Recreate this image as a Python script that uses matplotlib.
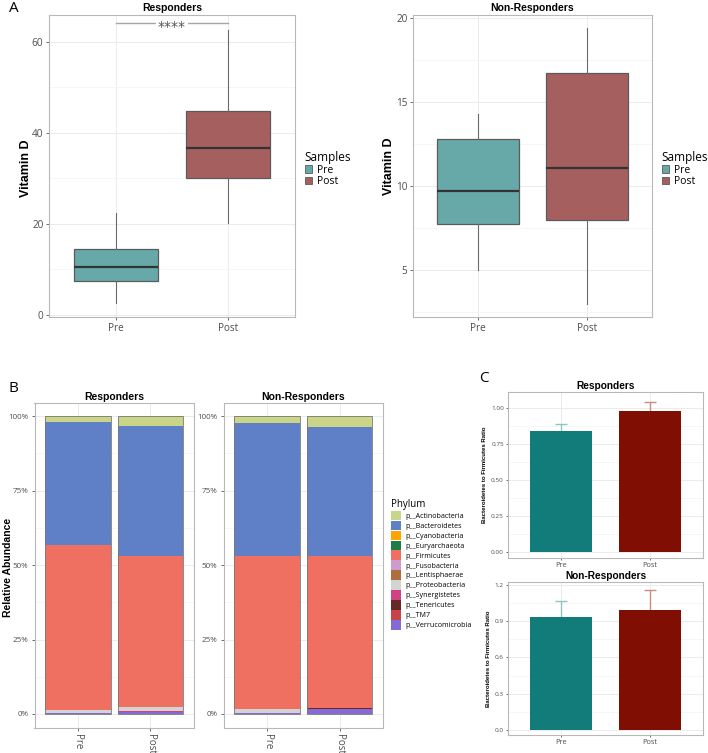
import matplotlib
matplotlib.use("Agg")
import matplotlib.pyplot as plt
import numpy as np
from matplotlib.patches import Patch
from matplotlib.ticker import MultipleLocator

# ---------------- data ----------------
samples = ["Pre", "Post"]

# Panel A: box statistics [lower whisker, Q1, median, Q3, upper whisker]
resp_pre_box = [2.6, 7.5, 10.6, 14.6, 22.5]
resp_post_box = [20.3, 30.1, 36.6, 44.8, 62.7]
nonresp_pre_box = [5.0, 7.75, 9.7, 12.8, 14.3]
nonresp_post_box = [3.0, 7.95, 11.05, 16.7, 19.4]
signif_label = "****"
signif_y = 64.2

# Panel B: relative abundance (%) per phylum
phyla = ["p__Actinobacteria", "p__Bacteroidetes", "p__Cyanobacteria", "p__Euryarchaeota",
         "p__Firmicutes", "p__Fusobacteria", "p__Lentisphaerae", "p__Proteobacteria",
         "p__Synergistetes", "p__Tenericutes", "p__TM7", "p__Verrucomicrobia"]
phylum_colors = ["#CBD588", "#5F7FC7", "#FFA500", "#1E7B45", "#EF6F61", "#CD9BCD",
                 "#AD6F3B", "#D3D3D3", "#D14285", "#652926", "#C84248", "#8569D5"]
resp_pre_abund = [2.0, 41.15, 0.05, 0.03, 55.4, 0.02, 0.03, 0.9, 0.02, 0.05, 0.05, 0.3]
resp_post_abund = [3.2, 43.62, 0.05, 0.03, 50.6, 0.02, 0.03, 1.6, 0.02, 0.08, 0.05, 0.7]
nonresp_pre_abund = [2.3, 44.66, 0.04, 0.03, 51.4, 0.02, 0.03, 1.1, 0.02, 0.06, 0.04, 0.3]
nonresp_post_abund = [3.6, 43.33, 0.04, 0.03, 50.85, 0.02, 0.02, 0.2, 0.02, 0.05, 0.04, 1.8]

# Panel C: Bacteroidetes / Firmicutes ratio (mean, error)
bf_resp_mean = [0.835, 0.975]
bf_resp_err = [0.05, 0.065]
bf_nonresp_mean = [0.935, 0.99]
bf_nonresp_err = [0.135, 0.165]

# ---------------- style ----------------
box_colors = ["#67A9A9", "#A65F5F"]
bar_colors_c = ["#117C7A", "#800E02"]
err_colors_c = ["#8CC5C3", "#C98B86"]
TICK_C = "#4d4d4d"
BOLD = ["Liberation Sans", "DejaVu Sans"]
REG = ["Open Sans", "DejaVu Sans"]
NARROW = ["Liberation Sans Narrow", "Liberation Sans", "DejaVu Sans"]

W, H = 708, 753
fig = plt.figure(figsize=(W / 100, H / 100), dpi=100)


def rect(l, t, r, b):
    return [l / W, 1 - b / H, (r - l) / W, (b - t) / H]


def ftext(x, y, s, **kw):
    return fig.text(x / W, 1 - y / H, s, **kw)


def style(ax, fs, minor=None):
    for s in ax.spines.values():
        s.set_color("#b8b8b8")
        s.set_linewidth(0.8)
    ax.tick_params(axis="both", which="major", colors="#555555", labelcolor=TICK_C,
                   labelsize=fs, length=2.5, width=0.6, pad=2)
    ax.tick_params(axis="both", which="minor", length=0)
    if minor is not None:
        ax.yaxis.set_minor_locator(MultipleLocator(minor))
    ax.grid(True, which="major", color="#ebebeb", linewidth=0.7)
    ax.grid(True, which="minor", axis="y", color="#f3f3f3", linewidth=0.5)
    ax.set_axisbelow(True)
    for lab in ax.get_xticklabels() + ax.get_yticklabels():
        lab.set_family(REG)


# ---------------- Panel A ----------------
def box_panel(ax, boxes, ylim, major, minor, title):
    stats = [dict(whislo=b[0], q1=b[1], med=b[2], q3=b[3], whishi=b[4], label=s)
             for b, s in zip(boxes, samples)]
    pos = np.arange(len(samples))
    bp = ax.bxp(stats, positions=pos, widths=0.75, showfliers=False, patch_artist=True,
                showcaps=False,
                boxprops=dict(linewidth=0.9, edgecolor="#5a5a5a"),
                medianprops=dict(color="#333333", linewidth=1.6),
                whiskerprops=dict(color="#6a6a6a", linewidth=0.8))
    for p, c in zip(bp["boxes"], box_colors):
        p.set_facecolor(c)
    ax.set_xlim(-0.6, len(samples) - 0.4)
    ax.set_ylim(*ylim)
    ax.yaxis.set_major_locator(MultipleLocator(major))
    style(ax, 7.2, minor)
    ax.tick_params(axis="y", pad=1.5)
    ax.set_title(title, fontsize=7.5, fontweight="bold", family=BOLD, pad=3)
    handles = [Patch(facecolor=c, edgecolor="#5a5a5a", linewidth=0.6, label=s)
               for c, s in zip(box_colors, samples)]
    leg = ax.legend(handles=handles, title="Samples", loc="center left",
                    bbox_to_anchor=(1.01, 0.49), frameon=False,
                    handlelength=0.7, handleheight=0.7,
                    labelspacing=0.05, handletextpad=0.5, alignment="left",
                    prop={"family": REG, "size": 7.5}, borderaxespad=0.3)
    leg.get_title().set_family(REG)
    leg.get_title().set_fontsize(8.5)
    return pos


axA1 = fig.add_axes(rect(49, 15, 295, 317))
posA = box_panel(axA1, [resp_pre_box, resp_post_box], (-0.44, 65.9), 20, 10, "Responders")
axA1.plot(posA, [signif_y, signif_y], color="#a6a6a6", linewidth=1.0, zorder=4)
axA1.text(posA.mean(), signif_y - 0.9, signif_label, ha="center", va="center", fontsize=10,
          color="#555555", zorder=5,
          bbox=dict(facecolor="white", edgecolor="none", pad=1.5))
ftext(26, 168, "Vitamin D", fontsize=9, fontweight="bold", family=NARROW, rotation=90,
      ha="center", va="center")

axA2 = fig.add_axes(rect(413, 15, 652, 317))
box_panel(axA2, [nonresp_pre_box, nonresp_post_box], (2.2, 20.18), 5, 2.5, "Non-Responders")
ftext(389, 166, "Vitamin D", fontsize=9, fontweight="bold", family=NARROW, rotation=90,
      ha="center", va="center")

ftext(14, 8, "A", fontsize=11, ha="center", va="center", family=REG)

# ---------------- Panel B ----------------
def stack_panel(ax, pre, post, title):
    pos = np.arange(len(samples))
    data = np.array([pre, post])  # samples x phyla
    bottom = np.zeros(len(samples))
    for j in range(len(phyla) - 1, -1, -1):
        vals = data[:, j] / 100.0
        ax.bar(pos, vals, bottom=bottom, width=0.9, color=phylum_colors[j], edgecolor="none",
               zorder=3)
        bottom = bottom + vals
    ax.bar(pos, bottom, width=0.9, fill=False, edgecolor="#777777", linewidth=0.6, zorder=4)
    ax.set_xlim(-0.6, len(samples) - 0.4)
    ax.set_ylim(-0.047, 1.044)
    ax.set_yticks([0, 0.25, 0.5, 0.75, 1.0])
    ax.set_yticklabels(["0%", "25%", "50%", "75%", "100%"])
    ax.set_xticks(pos)
    ax.set_xticklabels(samples, rotation=-90)
    style(ax, 5.8, 0.125)
    ax.tick_params(axis="x", labelsize=7, pad=1.5)
    ax.set_title(title, fontsize=7.5, fontweight="bold", family=BOLD, pad=2)


axB1 = fig.add_axes(rect(34.5, 403, 194, 728))
stack_panel(axB1, resp_pre_abund, resp_post_abund, "Responders")
ftext(8, 567, "Relative Abundance", fontsize=7.5, fontweight="bold", family=BOLD,
      rotation=90, ha="center", va="center")
axB2 = fig.add_axes(rect(223.5, 403, 383, 728))
stack_panel(axB2, nonresp_pre_abund, nonresp_post_abund, "Non-Responders")

handles = [Patch(facecolor=c, edgecolor="none", label=p) for c, p in zip(phylum_colors, phyla)]
legB = fig.legend(handles=handles, title="Phylum", loc="upper left",
                  bbox_to_anchor=(390 / W, 1 - 498 / H), frameon=False,
                  handlelength=1.4, handleheight=1.72, labelspacing=0.04, handletextpad=0.5,
                  alignment="left", prop={"family": REG, "size": 5.1},
                  borderaxespad=0, borderpad=0.2)
legB.get_title().set_family(REG)
legB.get_title().set_fontsize(7)

ftext(13, 388, "B", fontsize=11, ha="center", va="center", family=REG)

# ---------------- Panel C ----------------
def ratio_panel(ax, means, errs, ylim, major, fmt, title):
    pos = np.arange(len(samples))
    for i in range(len(samples)):
        ax.errorbar(pos[i], means[i], yerr=errs[i], fmt="none", ecolor=err_colors_c[i],
                    elinewidth=1.0, capsize=4.3, capthick=1.0, zorder=2)
    ax.bar(pos, means, width=0.7, color=bar_colors_c, edgecolor="none", zorder=3)
    ax.set_xlim(-0.6, len(samples) - 0.4)
    ax.set_ylim(*ylim)
    ax.yaxis.set_major_locator(MultipleLocator(major))
    ax.yaxis.set_major_formatter(plt.FormatStrFormatter(fmt))
    ax.set_xticks(pos)
    ax.set_xticklabels(samples)
    style(ax, 4.6, major / 2)
    ax.tick_params(axis="x", labelsize=5.3, length=1.5, pad=1.5)
    ax.tick_params(axis="y", length=1.5, pad=1.5)
    ax.set_ylabel("Bacteroidetes to Firmicutes Ratio", fontsize=4.3, fontweight="bold",
                  family=NARROW, labelpad=3)
    ax.set_title(title, fontsize=7.3, fontweight="bold", family=BOLD, pad=2)


axC1 = fig.add_axes(rect(508, 392, 703, 558))
ratio_panel(axC1, bf_resp_mean, bf_resp_err, (-0.044, 1.109), 0.25, "%.2f", "Responders")
axC2 = fig.add_axes(rect(508, 582, 703, 735))
ratio_panel(axC2, bf_nonresp_mean, bf_nonresp_err, (-0.041, 1.223), 0.3, "%.1f", "Non-Responders")

ftext(484, 379, "C", fontsize=11, ha="center", va="center", family=REG)

fig.savefig("out.png", dpi=100, facecolor="white")
